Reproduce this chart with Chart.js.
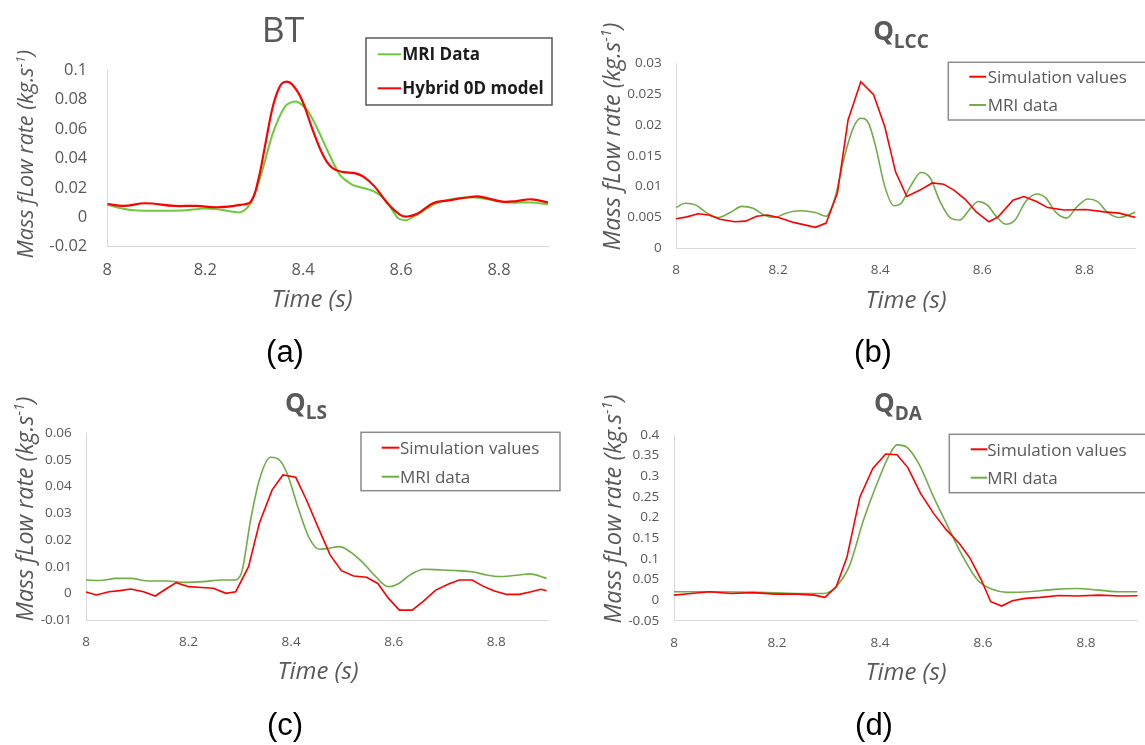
<!DOCTYPE html>
<html>
<head>
<meta charset="utf-8">
<script src="https://cdn.jsdelivr.net/npm/chart.js@4"></script>
<style>
  body { margin: 0; background: #fff; }
  canvas { position: absolute; }
</style>
</head>
<body>
<canvas id="pa" width="572" height="375" style="left:0;top:0"></canvas>
<canvas id="pb" width="573" height="375" style="left:572px;top:0"></canvas>
<canvas id="pc" width="572" height="370" style="left:0;top:375px"></canvas>
<canvas id="pd" width="573" height="370" style="left:572px;top:375px"></canvas>
<script>
// ---- data (time in s, mass flow rate in kg/s) ----

// (a) BT
const btMriTime = [8.0, 8.048, 8.152, 8.196, 8.226, 8.272, 8.293, 8.315, 8.338, 8.364, 8.386, 8.408, 8.427, 8.449, 8.475, 8.501, 8.542, 8.568, 8.594, 8.613, 8.643, 8.672, 8.717, 8.747, 8.784, 8.821, 8.866, 8.9];
const btMri = [0.0084, 0.005, 0.0045, 0.006, 0.0054, 0.0034, 0.0095, 0.030, 0.057, 0.0757, 0.0786, 0.073, 0.0616, 0.0457, 0.0288, 0.022, 0.018, 0.0118, -0.0007, -0.0018, 0.0039, 0.0095, 0.013, 0.0136, 0.0118, 0.010, 0.010, 0.0088];
const btModelTime = [8.0, 8.033, 8.077, 8.137, 8.181, 8.226, 8.271, 8.293, 8.308, 8.323, 8.338, 8.352, 8.364, 8.378, 8.397, 8.419, 8.442, 8.46, 8.483, 8.505, 8.523, 8.546, 8.572, 8.598, 8.613, 8.635, 8.665, 8.694, 8.739, 8.761, 8.806, 8.836, 8.866, 8.9];
const btModel = [0.009, 0.0077, 0.0095, 0.0077, 0.0077, 0.0068, 0.0084, 0.0106, 0.025, 0.050, 0.075, 0.0887, 0.092, 0.090, 0.080, 0.0597, 0.0412, 0.0333, 0.0306, 0.030, 0.0276, 0.0208, 0.0095, 0.0016, 0.0005, 0.0027, 0.0095, 0.0113, 0.0136, 0.014, 0.0106, 0.011, 0.0122, 0.010];

// (b) Q_LCC
const lccSimTime = [8.0, 8.0215, 8.043, 8.0646, 8.086, 8.115, 8.136, 8.158, 8.179, 8.201, 8.23, 8.273, 8.294, 8.316, 8.337, 8.362, 8.387, 8.409, 8.43, 8.452, 8.477, 8.502, 8.524, 8.545, 8.567, 8.588, 8.613, 8.631, 8.66, 8.681, 8.706, 8.728, 8.76, 8.803, 8.839, 8.868, 8.9];
const lccSim = [0.0048, 0.0051, 0.0056, 0.0054, 0.0047, 0.0043, 0.0044, 0.0052, 0.0054, 0.005, 0.0042, 0.0034, 0.0041, 0.0089, 0.0208, 0.027, 0.0249, 0.0197, 0.0124, 0.0084, 0.0094, 0.0106, 0.0104, 0.0094, 0.0079, 0.0059, 0.0043, 0.0051, 0.0078, 0.0084, 0.0076, 0.0066, 0.0062, 0.0063, 0.0059, 0.0057, 0.005];
const lccMriTime = [8.0, 8.018, 8.039, 8.061, 8.083, 8.108, 8.129, 8.151, 8.172, 8.194, 8.215, 8.244, 8.273, 8.294, 8.312, 8.33, 8.348, 8.362, 8.377, 8.391, 8.409, 8.427, 8.441, 8.459, 8.48, 8.498, 8.516, 8.538, 8.556, 8.574, 8.592, 8.61, 8.628, 8.646, 8.664, 8.685, 8.707, 8.725, 8.743, 8.765, 8.786, 8.807, 8.825, 8.847, 8.868, 8.886, 8.9];
const lccMri = [0.0066, 0.0073, 0.007, 0.0057, 0.005, 0.0059, 0.0068, 0.0065, 0.0054, 0.005, 0.0057, 0.0061, 0.0058, 0.0052, 0.0084, 0.0149, 0.0197, 0.0211, 0.0203, 0.0165, 0.010, 0.0069, 0.0073, 0.010, 0.0123, 0.0114, 0.0078, 0.0049, 0.0046, 0.0062, 0.0076, 0.007, 0.0051, 0.0039, 0.0046, 0.0076, 0.0088, 0.0081, 0.0059, 0.0049, 0.0068, 0.008, 0.0076, 0.0057, 0.005, 0.0054, 0.0059];

// (c) Q_LS
const lsSimTime = [8.0, 8.02, 8.045, 8.066, 8.087, 8.112, 8.135, 8.158, 8.176, 8.2, 8.225, 8.248, 8.273, 8.292, 8.317, 8.338, 8.363, 8.384, 8.409, 8.43, 8.452, 8.476, 8.498, 8.522, 8.547, 8.569, 8.59, 8.611, 8.636, 8.657, 8.682, 8.707, 8.728, 8.753, 8.774, 8.795, 8.82, 8.845, 8.866, 8.887, 8.898];
const lsSim = [0.0005, -0.0006, 0.0006, 0.001, 0.0016, 0.0006, -0.001, 0.0019, 0.004, 0.0025, 0.0022, 0.0019, 0, 0.0006, 0.010, 0.0263, 0.0388, 0.0444, 0.0435, 0.035, 0.025, 0.0144, 0.0085, 0.0065, 0.006, 0.0037, -0.0019, -0.0063, -0.0063, -0.0031, 0.0012, 0.0035, 0.005, 0.005, 0.0027, 0.001, -0.0004, -0.0004, 0.0005, 0.0015, 0.001];
const lsMriTime = [8.0, 8.027, 8.059, 8.087, 8.122, 8.158, 8.193, 8.229, 8.264, 8.289, 8.303, 8.321, 8.338, 8.36, 8.377, 8.392, 8.413, 8.434, 8.455, 8.473, 8.494, 8.515, 8.54, 8.565, 8.589, 8.611, 8.632, 8.66, 8.689, 8.724, 8.753, 8.781, 8.809, 8.845, 8.866, 8.898];
const lsMri = [0.005, 0.0048, 0.0056, 0.0056, 0.0046, 0.0046, 0.0041, 0.0044, 0.005, 0.005, 0.0075, 0.0275, 0.0425, 0.051, 0.050, 0.045, 0.0325, 0.0213, 0.0165, 0.0169, 0.0175, 0.0156, 0.0115, 0.0063, 0.0025, 0.0038, 0.0069, 0.009, 0.0088, 0.0085, 0.0081, 0.0069, 0.0063, 0.0069, 0.0073, 0.0056];

// (d) Q_DA
const daSimTime = [8.0, 8.033, 8.069, 8.111, 8.154, 8.197, 8.24, 8.272, 8.293, 8.315, 8.336, 8.361, 8.386, 8.411, 8.433, 8.454, 8.479, 8.504, 8.529, 8.554, 8.575, 8.597, 8.615, 8.636, 8.657, 8.682, 8.711, 8.747, 8.782, 8.825, 8.868, 8.9];
const daSim = [0.012, 0.016, 0.02, 0.016, 0.018, 0.0145, 0.0145, 0.012, 0.0065, 0.032, 0.105, 0.25, 0.319, 0.354, 0.352, 0.321, 0.258, 0.21, 0.17, 0.137, 0.101, 0.048, -0.004, -0.0145, -0.0016, 0.004, 0.0065, 0.011, 0.0097, 0.012, 0.0097, 0.0105];
const daMriTime = [8.0, 8.083, 8.168, 8.24, 8.29, 8.311, 8.34, 8.368, 8.397, 8.418, 8.433, 8.45, 8.475, 8.504, 8.532, 8.561, 8.59, 8.618, 8.647, 8.689, 8.739, 8.782, 8.825, 8.868, 8.9];
const daMri = [0.02, 0.02, 0.0186, 0.016, 0.016, 0.028, 0.081, 0.194, 0.291, 0.351, 0.376, 0.372, 0.331, 0.25, 0.178, 0.105, 0.048, 0.026, 0.0186, 0.02, 0.026, 0.028, 0.024, 0.02, 0.02];

// axis ranges
const timeMin = 8, timeMax = 8.9, timeStep = 0.2;
const btRange = [-0.02, 0.1, 0.02];
const lccRange = [0, 0.03, 0.005];
const lsRange = [-0.01, 0.06, 0.01];
const daRange = [-0.05, 0.4, 0.05];

const GREY = '#595959';
const FONT = '"Open Sans", "DejaVu Sans", sans-serif';

// titles, axis titles, legend box and panel tag drawn on top of each chart
const decor = {
  id: 'decor',
  afterDraw(chart, args, o) {
    const ctx = chart.ctx;
    ctx.save();
    ctx.textBaseline = 'alphabetic';
    ctx.textAlign = 'left';
    ctx.fillStyle = GREY;

    // main title with optional subscript
    const t = o.title;
    ctx.font = t.font;
    const w1 = ctx.measureText(t.text).width;
    let w2 = 0;
    if (t.sub) { ctx.font = t.subFont; w2 = ctx.measureText(t.sub).width; }
    const tx = t.x - (w1 + w2) / 2;
    ctx.font = t.font;
    ctx.fillText(t.text, tx, t.y);
    if (t.sub) { ctx.font = t.subFont; ctx.fillText(t.sub, tx + w1, t.y + t.subDy); }

    // y axis title, rotated, with superscript -1
    const y = o.yTitle, s = y.size;
    const main = 'italic ' + s + 'px ' + FONT;
    const small = 'italic ' + (s * 0.62).toFixed(1) + 'px ' + FONT;
    const p1 = 'Mass fLow rate (kg.s', p2 = '-1', p3 = ')';
    ctx.font = main;
    const a = ctx.measureText(p1).width, c = ctx.measureText(p3).width;
    ctx.font = small;
    const b = ctx.measureText(p2).width;
    ctx.translate(y.x, y.y);
    ctx.rotate(-Math.PI / 2);
    let x0 = -(a + b + c) / 2;
    ctx.font = main; ctx.fillText(p1, x0, 0);
    ctx.font = small; ctx.fillText(p2, x0 + a, -s * 0.38);
    ctx.font = main; ctx.fillText(p3, x0 + a + b, 0);
    ctx.setTransform(1, 0, 0, 1, 0, 0);

    // x axis title
    const xt = o.xTitle;
    ctx.font = 'italic ' + xt.size + 'px ' + FONT;
    ctx.textAlign = 'center';
    ctx.fillText('Time (s)', xt.x, xt.y);

    // panel tag
    ctx.fillStyle = '#000';
    ctx.font = '31px "Liberation Sans", Arial, sans-serif';
    ctx.fillText(o.tag.text, o.tag.x, o.tag.y);

    // legend box
    const lg = o.legend;
    const [bx, by, bw, bh] = lg.box;
    ctx.fillStyle = '#fff';
    ctx.fillRect(bx, by, bw, bh);
    ctx.strokeStyle = lg.border;
    ctx.lineWidth = 1.5;
    ctx.strokeRect(bx, by, bw, bh);
    ctx.textAlign = 'left';
    ctx.font = lg.font;
    lg.rows.forEach(r => {
      const ds = chart.data.datasets[r.index];
      ctx.strokeStyle = ds.borderColor;
      ctx.lineWidth = 2;
      ctx.beginPath();
      ctx.moveTo(lg.lineX[0], r.lineY);
      ctx.lineTo(lg.lineX[1], r.lineY);
      ctx.stroke();
      ctx.fillStyle = lg.color;
      ctx.fillText(ds.label, lg.textX, r.textY);
    });
    ctx.restore();
  }
};

function makePanel(id, p) {
  const canvas = document.getElementById(id);
  const W = canvas.width, H = canvas.height;
  const tickFont = { family: FONT, size: p.tickSize };
  new Chart(canvas, {
    type: 'line',
    data: {
      datasets: p.series.map(s => ({
        label: s.label,
        data: s.t.map((t, i) => ({ x: t, y: s.v[i] })),
        borderColor: s.color,
        borderWidth: s.width,
        pointRadius: 0,
        fill: false,
        tension: s.tension,
        cubicInterpolationMode: s.mode || 'default',
        order: s.order || 0
      }))
    },
    options: {
      responsive: false,
      animation: false,
      layout: { padding: { top: p.area.top, right: W - p.area.right, left: 0, bottom: 0 } },
      plugins: { legend: { display: false }, tooltip: { enabled: false }, decor: p.decor },
      scales: {
        x: {
          type: 'linear',
          min: timeMin,
          max: timeMax,
          afterFit: sc => { sc.height = H - p.area.bottom; },
          grid: { display: false, drawTicks: false },
          border: { color: '#d9d9d9', width: 1 },
          ticks: {
            stepSize: timeStep,
            includeBounds: false,
            autoSkip: false,
            maxRotation: 0,
            padding: 14,
            color: GREY,
            font: tickFont,
            callback: v => String(Number(v.toFixed(1)))
          }
        },
        y: {
          min: p.range[0],
          max: p.range[1],
          afterFit: sc => { sc.width = p.area.left; },
          grid: { display: false, drawTicks: false },
          border: { color: '#d9d9d9', width: 1 },
          ticks: {
            stepSize: p.range[2],
            padding: p.yPad,
            color: GREY,
            font: tickFont,
            callback: v => String(Number(v.toFixed(4)))
          }
        }
      }
    },
    plugins: [decor]
  });
}

const RED = '#ff0000', LIME = '#6ccb3d', GREEN = '#70ad47';
const legendPlain = { border: '#8c8c8c', font: '17px ' + FONT, color: GREY };

makePanel('pa', {
  area: { left: 107.3, right: 548, top: 70, bottom: 246.7 },
  range: btRange, tickSize: 16.5, yPad: 20,
  series: [
    { label: 'MRI Data', t: btMriTime, v: btMri, color: LIME, width: 2, tension: 0.25, order: 2 },
    { label: 'Hybrid 0D model', t: btModelTime, v: btModel, color: RED, width: 2.2, tension: 0.4, order: 1 }
  ],
  decor: {
    title: { text: 'BT', x: 283, y: 41.7, font: '35.5px ' + FONT },
    yTitle: { x: 33.3, y: 154, size: 21.5 },
    xTitle: { x: 312, y: 307.3, size: 24 },
    tag: { text: '(a)', x: 285, y: 362 },
    legend: {
      box: [366, 38, 186, 67], border: '#595959', font: 'bold 17px ' + FONT, color: '#1c1c1c',
      lineX: [377.7, 401], textX: 402.3,
      rows: [{ index: 0, lineY: 54.3, textY: 60 }, { index: 1, lineY: 88.3, textY: 94 }]
    }
  }
});

makePanel('pb', {
  area: { left: 104, right: 563.5, top: 63.3, bottom: 248.3 },
  range: lccRange, tickSize: 13.5, yPad: 14.3,
  series: [
    { label: 'Simulation values', t: lccSimTime, v: lccSim, color: RED, width: 1.6, tension: 0 },
    { label: 'MRI data', t: lccMriTime, v: lccMri, color: GREEN, width: 1.6, tension: 0.4, mode: 'monotone' }
  ],
  decor: {
    title: { text: 'Q', sub: 'LCC', x: 329, y: 40.3, font: 'bold 26px ' + FONT, subFont: 'bold 19px ' + FONT, subDy: 8 },
    yTitle: { x: 48, y: 136.5, size: 23.5 },
    xTitle: { x: 334, y: 308, size: 24 },
    tag: { text: '(b)', x: 301, y: 362 },
    legend: Object.assign({
      box: [376.3, 62.3, 205, 57.7], lineX: [397.3, 414], textX: 415.7,
      rows: [{ index: 0, lineY: 76.7, textY: 83.3 }, { index: 1, lineY: 105, textY: 111 }]
    }, legendPlain)
  }
});

makePanel('pc', {
  area: { left: 86, right: 547.5, top: 58.3, bottom: 245 },
  range: lsRange, tickSize: 13.5, yPad: 14.3,
  series: [
    { label: 'Simulation values', t: lsSimTime, v: lsSim, color: RED, width: 1.6, tension: 0 },
    { label: 'MRI data', t: lsMriTime, v: lsMri, color: GREEN, width: 1.6, tension: 0.4, mode: 'monotone' }
  ],
  decor: {
    title: { text: 'Q', sub: 'LS', x: 306, y: 36.9, font: 'bold 26px ' + FONT, subFont: 'bold 19px ' + FONT, subDy: 7.4 },
    yTitle: { x: 33.3, y: 134, size: 23.2 },
    xTitle: { x: 318, y: 304.3, size: 24 },
    tag: { text: '(c)', x: 285, y: 360 },
    legend: Object.assign({
      box: [361, 57.3, 199, 58.4], lineX: [381.7, 399.3], textX: 400,
      rows: [{ index: 0, lineY: 72.7, textY: 79 }, { index: 1, lineY: 101.7, textY: 107.7 }]
    }, legendPlain)
  }
});

makePanel('pd', {
  area: { left: 102, right: 565.5, top: 60, bottom: 245.7 },
  range: daRange, tickSize: 13.5, yPad: 14.7,
  series: [
    { label: 'Simulation values', t: daSimTime, v: daSim, color: RED, width: 1.6, tension: 0 },
    { label: 'MRI data', t: daMriTime, v: daMri, color: GREEN, width: 1.6, tension: 0.4, mode: 'monotone' }
  ],
  decor: {
    title: { text: 'Q', sub: 'DA', x: 326, y: 36.6, font: 'bold 26px ' + FONT, subFont: 'bold 19px ' + FONT, subDy: 8.4 },
    yTitle: { x: 48.7, y: 134, size: 23.6 },
    xTitle: { x: 334, y: 305, size: 24 },
    tag: { text: '(d)', x: 302, y: 360 },
    legend: Object.assign({
      box: [377.3, 59.3, 205, 58.4], lineX: [398.7, 415.3], textX: 415.3,
      rows: [{ index: 0, lineY: 74.3, textY: 81 }, { index: 1, lineY: 102.7, textY: 109.3 }]
    }, legendPlain)
  }
});
</script>
</body>
</html>
